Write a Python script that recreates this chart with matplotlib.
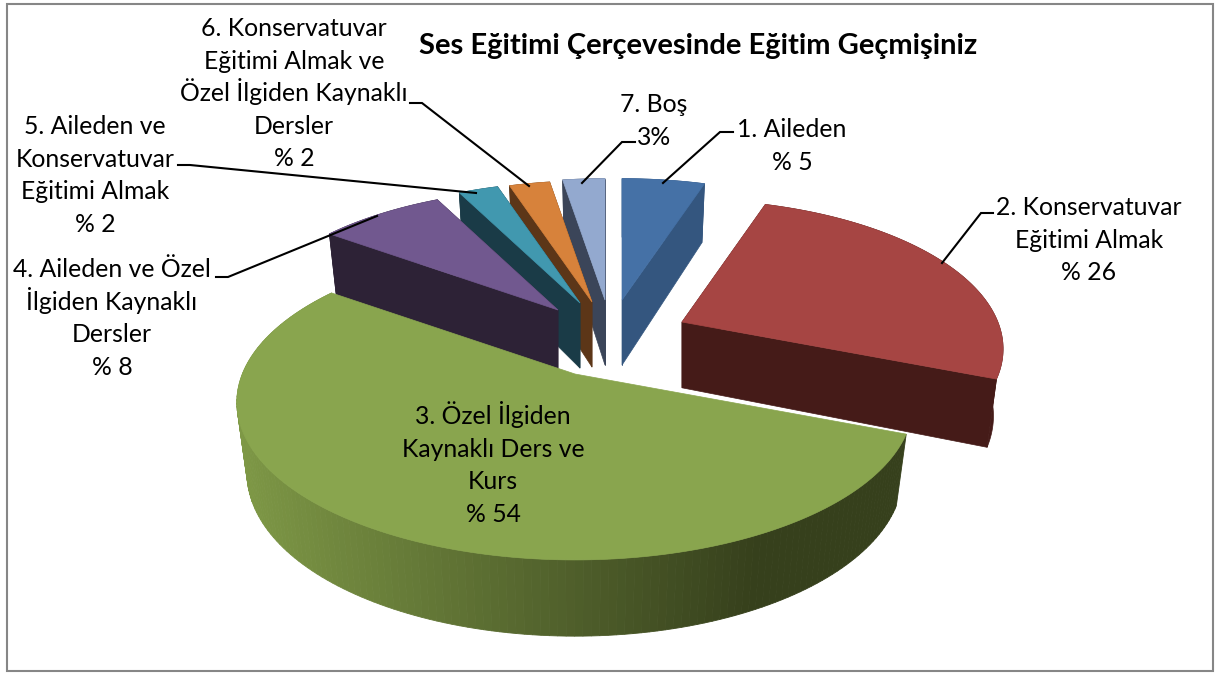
import numpy as np
import matplotlib
matplotlib.use("Agg")
import matplotlib.pyplot as plt
from matplotlib.patches import Polygon, Rectangle

# --- data ---
title = "Ses Eğitimi Çerçevesinde Eğitim Geçmişiniz"
categories = ["1. Aileden\n% 5",
              "2. Konservatuvar\nEğitimi Almak\n% 26",
              "3. Özel İlgiden\nKaynaklı Ders ve\nKurs\n% 54",
              "4. Aileden ve Özel\nİlgiden Kaynaklı\nDersler\n% 8",
              "5. Aileden ve\nKonservatuvar\nEğitimi Almak\n% 2",
              "6. Konservatuvar\nEğitimi Almak ve\nÖzel İlgiden Kaynaklı\nDersler\n% 2",
              "7. Boş\n3%"]
values = [5, 26, 54, 7.6, 2.4, 2.45, 2.55]

# --- style / layout (pixels) ---
W, H = 1217, 675
top_colors = ["#4571A6", "#A64543", "#89A54E", "#71588F", "#4198AF", "#D7823B", "#93A9CF"]
wall_colors = ["#34567F", "#451B18", None, "#2D2236", "#1A3B47", "#5C3618", "#3B4559"]
CENTER = (590, 340)
explode = [(32, -40), (92, -18), (-15, 34), (-32, -30), (-10, -37), (2, -38), (15, -40)]
scale = [0.93, 0.94, 0.99, 0.93, 0.93, 0.93, 0.93]
draw_order = [6, 5, 4, 3, 0, 1, 2]
RX, RY, K = 336, 154, 0.18
DEPTH, XSHRINK = 70, 0.97
label_pos = [(792, 137), (1089, 215), (493, 424), (112, 277), (95, 134), (294, 36), (654, 112)]
LINE_PITCH = 32.6
leaders = [[(733, 132), (720, 132), (663, 183)],
           [(993, 213), (981, 213), (942, 263)],
           None,
           [(216, 277), (228, 277), (377, 216)],
           [(178, 165), (190, 165), (476, 193)],
           [(410, 103), (422, 103), (529, 186)],
           [(635, 142), (622, 142), (582, 183)]]
FONT = "Lato"
FS = 17.8

fig = plt.figure(figsize=(W / 100, H / 100), dpi=100, facecolor="white")
ax = fig.add_axes([0, 0, 1, 1])
ax.set_xlim(0, W)
ax.set_ylim(H, 0)
ax.axis("off")
ax.add_patch(Rectangle((7, 4), 1206, 667, fc="white", ec="#868686", lw=1.5))


def project(theta, apex, s):
    X, Y = np.sin(theta), -np.cos(theta)
    f = 1 / (1 - K * Y)
    dx, dy = s * RX * X * f, s * RY * Y * f
    top = np.column_stack([apex[0] + dx, apex[1] + dy])
    d = DEPTH * s * (1 + 0.1 * Y)
    bottom = np.column_stack([apex[0] + dx * XSHRINK, apex[1] + dy + d])
    return top, bottom


def mix(a, b, t):
    a, b = np.array(matplotlib.colors.to_rgb(a)), np.array(matplotlib.colors.to_rgb(b))
    return tuple(a + (b - a) * t)


fractions = np.cumsum([0] + values) / sum(values) * 2 * np.pi
for i in draw_order:
    t0, t1 = fractions[i], fractions[i + 1]
    th = np.linspace(t0, t1, 160)
    apex = (CENTER[0] + explode[i][0], CENTER[1] + explode[i][1])
    s = scale[i]
    top, bot = project(th, apex, s)
    a_top = np.array(apex, float)
    a_bot = np.array([apex[0], apex[1] + DEPTH * s])
    wc = wall_colors[i]
    z = 2 + draw_order.index(i)
    if wc is not None:
        ax.add_patch(Polygon([a_top, top[0], bot[0], a_bot], fc=wc, ec=wc, lw=0.5, zorder=z))
        ax.add_patch(Polygon([a_top, top[-1], bot[-1], a_bot], fc=wc, ec=wc, lw=0.5, zorder=z))
        ax.add_patch(Polygon(np.vstack([top, bot[::-1]]), fc=wc, ec=wc, lw=0.5, zorder=z))
    else:
        # shaded curved wall: light on the left, dark on the right
        xmin, xmax = top[:, 0].min(), 760
        for j in range(len(th) - 1):
            tt = np.clip((top[j, 0] - xmin) / (xmax - xmin), 0, 1)
            c = mix("#7E9846", "#36401C", tt)
            ax.add_patch(Polygon([top[j], top[j + 1], bot[j + 1], bot[j]], fc=c, ec=c, lw=0.6, zorder=z))
    ax.add_patch(Polygon(np.vstack([a_top, top]), fc=top_colors[i], ec=top_colors[i], lw=0.5, zorder=z + 0.5))

for i, txt in enumerate(categories):
    for n, line in enumerate(txt.split("\n")):
        ax.text(label_pos[i][0], label_pos[i][1] + n * LINE_PITCH, line, ha="center", va="baseline",
                family=FONT, fontsize=FS, color="black", zorder=30)
    if leaders[i]:
        pts = np.array(leaders[i])
        ax.plot(pts[:, 0], pts[:, 1], color="black", lw=1.5, zorder=29, solid_joinstyle="miter")

ax.text(698, 54, title, ha="center", va="baseline", family=FONT, fontsize=21, fontweight="bold",
        color="black", zorder=30)

fig.savefig("out.png", dpi=100, facecolor="white")
